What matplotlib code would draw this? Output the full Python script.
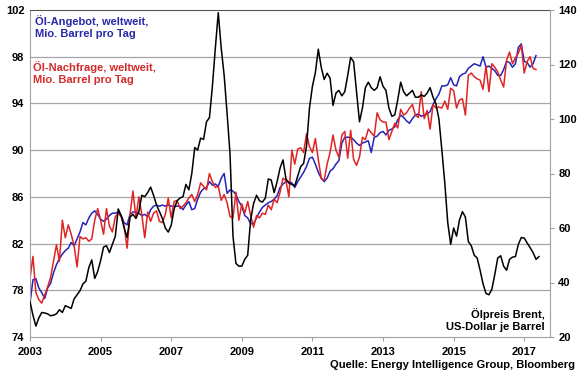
import numpy as np
import matplotlib
matplotlib.use("Agg")
import matplotlib.pyplot as plt

plt.rcParams['font.family'] = ['Liberation Sans', 'DejaVu Sans']
plt.rcParams['font.weight'] = 'bold'

# monthly values, Jan 2003 onwards
angebot = [76.9, 78.9, 79.0, 78.2, 77.8, 77.3, 78.2, 78.6, 79.5, 80.2, 80.7, 81.1,
           81.4, 81.6, 82.1, 81.8, 82.4, 83.0, 83.8, 83.6, 84.2, 84.6, 84.8, 84.5,
           84.1, 83.9, 84.1, 84.4, 84.6, 84.6, 84.7, 84.4, 83.8, 83.6, 84.5, 84.7,
           84.7, 84.6, 84.4, 84.5, 84.3, 84.9, 85.2, 85.3, 85.2, 85.3, 85.2, 85.3,
           85.2, 85.2, 85.2, 85.2, 84.9, 85.3, 85.6, 84.9, 85.0, 85.8, 86.4, 86.7,
           86.8, 87.3, 87.0, 87.1, 86.9, 87.6, 88.0, 86.3, 86.6, 86.5, 86.2, 85.6,
           85.2, 84.4, 84.2, 83.7, 83.7, 84.2, 84.7, 85.1, 85.3, 85.5, 85.6, 85.8,
           86.1, 86.8, 87.1, 87.3, 87.3, 87.2, 86.8, 87.3, 87.7, 88.1, 88.6, 89.3,
           89.4, 88.8, 88.1, 87.6, 87.3, 87.6, 88.2, 88.4, 88.8, 89.1, 90.6, 91.1,
           91.1, 91.1, 90.9, 90.6, 90.4, 90.6, 90.7, 90.8, 89.8, 91.1, 91.2, 91.5,
           91.6, 91.3, 91.7, 91.8, 92.0, 92.6, 93.0, 92.8, 92.5, 92.3, 92.7, 93.0,
           93.1, 92.9, 93.0, 93.1, 93.3, 93.9, 94.4, 94.8, 95.5, 95.5, 95.6, 96.2,
           95.6, 95.5, 96.3, 96.5, 96.6, 97.0, 97.2, 97.4, 97.3, 97.2, 98.0, 97.1,
           97.2, 97.0, 96.8, 96.4, 96.4, 96.9, 97.6, 97.5, 97.1, 97.4, 98.8, 99.1,
           97.6, 97.5, 97.1, 97.4, 98.1]

nachfrage = [79.0, 80.9, 77.8, 77.2, 76.9, 77.6, 78.3, 79.1, 80.5, 81.9, 80.5, 84.0,
             82.5, 83.6, 82.8, 81.8, 80.0, 82.6, 82.4, 82.5, 82.2, 82.4, 84.0, 85.0,
             84.0, 82.8, 85.0, 83.5, 83.0, 84.3, 84.6, 84.3, 83.5, 81.6, 84.5, 86.5,
             84.2, 86.0, 84.5, 82.5, 84.7, 83.9, 84.6, 84.8, 83.9, 83.8, 84.5, 85.9,
             84.2, 85.6, 85.7, 85.0, 85.2, 85.5, 85.9, 86.2, 85.6, 86.2, 87.2, 86.9,
             86.6, 88.0, 87.3, 86.8, 86.9, 85.7, 86.2, 85.5, 84.3, 84.2, 86.4, 84.0,
             85.4, 84.6, 85.6, 84.4, 83.4, 84.4, 84.2, 84.6, 84.5, 85.3, 84.9, 85.8,
             85.5, 86.4, 87.6, 87.4, 86.0, 90.0, 88.8, 90.1, 90.2, 89.8, 91.4, 90.3,
             89.8, 91.0, 89.2, 87.6, 87.4, 88.8, 89.8, 91.3, 90.0, 89.4, 91.3, 91.6,
             89.3, 91.7, 89.2, 88.7, 89.4, 91.1, 90.9, 91.8, 91.5, 91.2, 93.2, 92.6,
             92.4, 92.4, 90.9, 91.6, 92.3, 91.9, 93.5, 93.0, 93.2, 93.6, 93.9, 93.0,
             92.8, 95.0, 92.7, 93.4, 91.8, 93.9, 93.6, 93.7, 93.6, 94.2, 93.5, 95.3,
             95.1, 93.6, 94.3, 94.4, 93.0, 96.4, 96.6, 96.3, 96.1, 96.0, 95.2, 97.2,
             95.0, 97.4, 97.1, 96.7, 96.0, 95.4, 97.7, 98.4, 97.4, 97.9, 98.3, 99.0,
             96.6, 97.6, 98.0, 97.0, 96.9]

brent = [33.0, 28.0, 24.0, 27.0, 29.0, 28.8, 28.5, 27.8, 28.0, 28.5, 30.0, 29.0,
         31.5, 31.0, 30.5, 34.0, 35.5, 37.0, 39.5, 40.5, 45.5, 48.3, 41.5, 44.0,
         48.0, 53.0, 53.5, 51.0, 54.0, 57.0, 67.0, 64.5, 60.0, 56.5, 64.0, 65.0,
         63.5, 66.0, 72.0, 71.5, 73.0, 75.0, 72.0, 68.5, 66.0, 63.5, 60.0, 58.5,
         61.0, 67.0, 70.0, 71.0, 71.5, 76.0, 74.0, 80.0, 89.5, 88.6, 93.0, 92.5,
         99.0, 100.5, 112.0, 126.0, 139.0, 126.0, 116.0, 102.0, 87.0, 57.0, 47.0, 46.0,
         46.0, 48.5, 50.0, 63.0, 69.0, 72.0, 70.0, 69.5, 71.0, 78.0, 77.6, 73.0,
         77.0, 82.0, 85.0, 78.0, 76.5, 76.0, 75.5, 79.0, 82.5, 83.7, 90.0, 104.0,
         112.0, 117.0, 125.6, 119.0, 114.5, 116.8, 115.0, 105.0, 109.5, 110.5, 108.5, 110.0,
         116.0, 122.6, 121.0, 110.0, 99.0, 104.0, 111.5, 113.5, 111.5, 110.5, 111.5, 115.5,
         112.0, 110.5, 104.0, 101.0, 101.5, 107.0, 113.5, 110.0, 108.5, 109.5, 110.5, 108.0,
         108.0, 108.8, 108.3, 109.5, 111.5, 108.0, 105.5, 100.0, 88.6, 76.5, 62.0, 54.0,
         60.0, 57.0, 63.0, 66.0, 64.0, 55.0, 53.5, 50.0, 49.0, 44.5, 39.5, 36.0,
         35.5, 37.5, 43.0, 49.0, 49.8, 46.0, 44.5, 48.5, 49.3, 49.5, 54.0, 56.5,
         56.3, 54.5, 52.8, 51.0, 48.5, 49.5]

jahre = [2003, 2005, 2007, 2009, 2011, 2013, 2015, 2017]
links_ticks = [74, 78, 82, 86, 90, 94, 98, 102]
rechts_ticks = [20, 40, 60, 80, 100, 120, 140]

t_oel = 2003 + np.arange(len(angebot)) / 12.0
t_brent = 2003 + np.arange(len(brent)) / 12.0

W, H = 580.0, 375.0
fig = plt.figure(figsize=(5.8, 3.75), dpi=100)
ax = fig.add_axes([30 / W, 1 - 337 / H, 520 / W, 327 / H])
ax2 = ax.twinx()

ax.plot(t_oel, angebot, color='#2323b8', lw=1.1)
ax.plot(t_oel, nachfrage, color='#e02424', lw=1.1)
ax2.plot(t_brent, brent, color='black', lw=1.1)

ax.set_xlim(2003, 2017.73)
ax.set_ylim(74, 102)
ax2.set_ylim(20, 140)

ax.set_yticks(links_ticks)
ax.set_xticks(jahre)
ax.set_xticklabels([str(j) for j in jahre])
ax2.set_yticks(rechts_ticks)

for y in links_ticks[1:-1]:
    ax.axhline(y, color='#a6a6a6', lw=0.9, zorder=0)

for s in ['left', 'bottom']:
    ax.spines[s].set_color('#a0a0a0')
ax.spines['top'].set_color('#555555')
ax.spines['right'].set_visible(False)
for s in ['left', 'bottom', 'top']:
    ax2.spines[s].set_visible(False)
ax2.spines['right'].set_color('#a0a0a0')

ax.tick_params(axis='y', length=0, pad=4, labelsize=8)
ax.tick_params(axis='x', length=3, color='#a0a0a0', pad=4, labelsize=8)
ax2.tick_params(axis='y', length=3, color='#a0a0a0', pad=3, labelsize=8)

# Beschriftungen in Pixeln vom oberen Rand
fig.text(35 / W, 1 - 27 / H, 'Öl-Angebot, weltweit,\nMio. Barrel pro Tag',
         color='#2828a8', fontsize=8, fontweight='bold', va='center',
         linespacing=1.15)
fig.text(33 / W, 1 - 73 / H, 'Öl-Nachfrage, weltweit,\nMio. Barrel pro Tag',
         color='#d42a2a', fontsize=8, fontweight='bold', va='center',
         linespacing=1.15)

fig.text(545 / W, 1 - 320 / H, 'Ölpreis Brent,\nUS-Dollar je Barrel',
         ha='right', va='center', fontsize=8, fontweight='bold', linespacing=1.15)
fig.text(575 / W, 1 - 365 / H, 'Quelle: Energy Intelligence Group, Bloomberg',
         ha='right', va='center', fontsize=8, fontweight='bold')

fig.savefig('out.png', dpi=100)
